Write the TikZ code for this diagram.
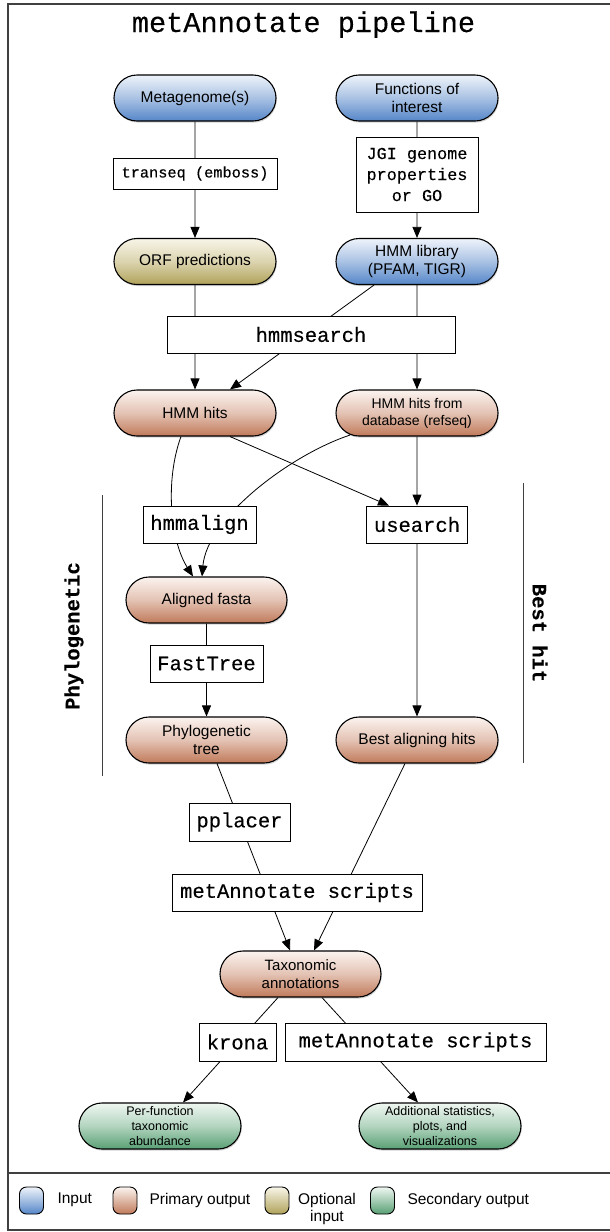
\documentclass[tikz,border=0pt]{standalone}
\usepackage{fontspec}
\setmainfont{Liberation Sans}
\setmonofont{Liberation Mono}[FakeBold=0.3]
\usepackage{xcolor}
\usetikzlibrary{shapes,shapes.misc,arrows.meta,positioning,shadows}

\definecolor{inTop}{HTML}{EEF3FA}
\definecolor{inBot}{HTML}{5586C8}
\definecolor{priTop}{HTML}{FBF3EF}
\definecolor{priBot}{HTML}{C07A5A}
\definecolor{optTop}{HTML}{F8F5E8}
\definecolor{optBot}{HTML}{B0A25A}
\definecolor{secTop}{HTML}{EFF7F1}
\definecolor{secBot}{HTML}{58A074}
\definecolor{frame}{HTML}{404040}

\begin{document}
\begin{tikzpicture}[x=1pt,y=-1pt,
    pill/.style={rounded rectangle, draw, line width=1.1pt, minimum width=164pt, minimum height=46pt,
        inner sep=1pt, align=center, font=\fontsize{15.5}{18}\selectfont,
        drop shadow={shadow xshift=0.8pt,shadow yshift=-1.6pt,opacity=0.35}},
    input/.style={pill, top color=inTop, bottom color=inBot, middle color=inTop!55!inBot},
    primary/.style={pill, top color=priTop, bottom color=priBot, middle color=priTop!60!priBot},
    optional/.style={pill, top color=optTop, bottom color=optBot, middle color=optTop!60!optBot},
    secondary/.style={pill, top color=secTop, bottom color=secBot, middle color=secTop!60!secBot},
    tool/.style={draw, fill=white, line width=0.8pt, inner sep=0pt, align=center,
        font=\ttfamily\fontsize{20.5}{21}\selectfont},
    legbox/.style={rounded corners=7pt, draw, line width=0.9pt, minimum width=24pt, minimum height=27pt, inner sep=0pt},
    legtext/.style={font=\fontsize{15.5}{17}\selectfont, align=center},
    arr/.style={-{Triangle[length=11pt,width=9pt]}, line width=0.8pt},
    side/.style={line width=0.8pt, black!75}
]
\useasboundingbox (0,0) rectangle (610,1232);

% frame and title
\draw[line width=1.5pt, frame] (8,4) rectangle (616,1230);
\draw[line width=1.5pt, frame] (8,1173) -- (616,1173);
\node[font=\ttfamily\fontsize{28.6}{30}\selectfont, anchor=base] (title) at (303.5,32) {metAnnotate pipeline};

% data
\node[input] (meta) at (195,98) {Metagenome(s)};
\node[input] (func) at (417,98) {Functions of\\interest};
\node[optional] (orf) at (195,261.5) {ORF predictions};
\node[input] (hmmlib) at (417,261.5) {HMM library\\(PFAM, TIGR)};
\node[primary] (hits) at (195,413) {HMM hits};
\node[primary, font=\fontsize{14}{17}\selectfont] (dbhits) at (417,413) {HMM hits from\\database (refseq)};
\node[primary, minimum width=163pt] (aligned) at (206.5,600) {Aligned fasta};
\node[primary, minimum width=163pt] (tree) at (206.5,740) {Phylogenetic\\tree};
\node[primary] (best) at (417,740) {Best aligning hits};
\node[primary, minimum width=163pt, font=\fontsize{15}{17.5}\selectfont] (taxo) at (300.5,974) {Taxonomic\\annotations};
\node[secondary, font=\fontsize{12.5}{15}\selectfont] (per) at (160,1126) {Per-function\\taxonomic\\abundance};
\node[secondary, font=\fontsize{12.5}{15}\selectfont] (stats) at (440,1126) {Additional statistics,\\plots, and\\visualizations};
\node[tool, minimum width=101pt, minimum height=37pt] (usearch) at (417,524.5) {usearch};

% connectors
\draw[arr] (meta) -- (orf);
\draw[arr] (func) -- (hmmlib);
\draw[arr] (orf) -- (hits);
\draw[arr] ([xshift=-43pt]hmmlib.south) -- ([xshift=35pt]hits.north);
\draw[arr] (hmmlib) -- (dbhits);
\draw[arr] ([xshift=35pt]hits.south) -- ([xshift=-28pt]usearch.north);
\draw[arr] (dbhits) -- (usearch);
\draw[arr] ([xshift=-14pt]hits.south) .. controls (165,480) and (170,540) .. ([xshift=-13.5pt]aligned.north);
\draw[arr] ([xshift=-67pt,yshift=1.5pt]dbhits.south) .. controls (290,455) and (207,518) .. ([xshift=-4.5pt]aligned.north);
\draw[arr] (aligned) -- (tree);
\draw[arr] (usearch) -- (best);
\draw[arr] ([xshift=10.5pt]tree.south) -- ([xshift=-10.5pt]taxo.north);
\draw[arr] ([xshift=-12pt]best.south) -- ([xshift=13.5pt]taxo.north);
\draw[arr] ([xshift=-22.5pt]taxo.south) -- ([xshift=23pt]per.north);
\draw[arr] ([xshift=21.5pt]taxo.south) -- ([xshift=-22pt]stats.north);

% tools
\node[tool, minimum width=164pt, minimum height=31pt, font=\ttfamily\fontsize{15.3}{18}\selectfont] (transeq) at (195,173.5) {transeq (emboss)};
\node[tool, minimum width=122pt, minimum height=75pt, font=\ttfamily\fontsize{16.8}{21}\selectfont] (jgi) at (417,174.5) {JGI genome\\properties\\or GO};
\node[tool, minimum width=288pt, minimum height=37pt] (hmmsearch) at (311,334.5) {hmmsearch};
\node[tool, minimum width=113pt, minimum height=37pt] (hmmalign) at (199.5,524.5) {hmmalign};
\node[tool, minimum width=113pt, minimum height=37pt] (fasttree) at (206.5,663.5) {FastTree};
\node[tool, minimum width=101pt, minimum height=38pt] (pplacer) at (239.5,822) {pplacer};
\node[tool, minimum width=250pt, minimum height=37pt] (scripts) at (297,892.5) {metAnnotate scripts};
\node[tool, minimum width=77pt, minimum height=38pt] (krona) at (237.5,1042) {krona};
\node[tool, minimum width=261pt, minimum height=38pt] (scriptsb) at (415.5,1042) {metAnnotate scripts};

% sides
\draw[side] (102,495) -- (102,776);
\draw[side] (523,483) -- (523,763);
\node[rotate=90, font=\ttfamily\bfseries\fontsize{20.5}{21}\selectfont] (phylo) at (74,636) {Phylogenetic};
\node[rotate=-90, font=\ttfamily\bfseries\fontsize{20.5}{21}\selectfont] (besthit) at (540,633) {Best hit};

% legend
\node[legbox, top color=inTop, bottom color=inBot] (legin) at (31.5,1200.5) {};
\node[legtext, anchor=west] (legintext) at (54,1200) {Input};
\node[legbox, top color=priTop, bottom color=priBot] (legpri) at (125,1200.5) {};
\node[legtext, anchor=west] (legpritext) at (146,1200) {Primary output};
\node[legbox, top color=optTop, bottom color=optBot] (legopt) at (277,1200.5) {};
\node[legtext] (legopttext) at (327,1208.5) {Optional\\input};
\node[legbox, top color=secTop, bottom color=secBot] (legsec) at (382.5,1200.5) {};
\node[legtext, anchor=west] (legsectext) at (404,1200) {Secondary output};
\end{tikzpicture}
\end{document}
